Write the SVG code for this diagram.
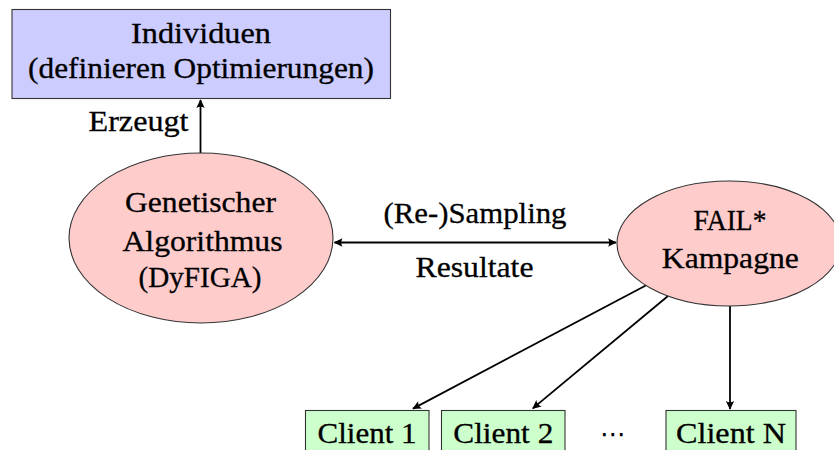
<svg xmlns="http://www.w3.org/2000/svg" width="834" height="450" viewBox="0 0 834 450">
  <style>
    text { font-family: "Liberation Serif", "Times New Roman", serif; font-size: 30px; fill: #000; stroke: #000; stroke-width: 0.3; text-anchor: middle; }
    .box { stroke: #333; stroke-width: 1.1; }
    .ind { fill: #ccccff; }
    .proc { fill: #ffcccc; }
    .client { fill: #ccffcc; }
    .edge { fill: none; stroke: #000; stroke-width: 1.8; }
  </style>
  <defs>
    <marker id="arrow" viewBox="-9 -5 10 10" refX="0" refY="0" markerWidth="10" markerHeight="10" markerUnits="userSpaceOnUse" orient="auto-start-reverse">
      <path d="M0.8,0 L-8,-4.2 Q-5.5,0 -8,4.2 Z" fill="#000"/>
    </marker>
  </defs>

  <!-- connectors -->
  <g id="connectors">
    <line class="edge" x1="200.5" y1="153" x2="200.5" y2="100" marker-end="url(#arrow)"/>
    <text x="188.5" y="131" style="text-anchor:end" textLength="100" lengthAdjust="spacingAndGlyphs">Erzeugt</text>

    <line class="edge" x1="334.5" y1="242.5" x2="616" y2="242.5" marker-start="url(#arrow)" marker-end="url(#arrow)"/>
    <text x="475" y="222.5" textLength="183" lengthAdjust="spacingAndGlyphs">(Re-)Sampling</text>
    <text x="474.5" y="276.5" textLength="118" lengthAdjust="spacingAndGlyphs">Resultate</text>

    <line class="edge" x1="646.7" y1="285" x2="413" y2="408.6" marker-end="url(#arrow)"/>
    <line class="edge" x1="668" y1="296" x2="532.8" y2="408.4" marker-end="url(#arrow)"/>
    <line class="edge" x1="730" y1="306" x2="730" y2="409" marker-end="url(#arrow)"/>
  </g>

  <!-- population of individuals -->
  <g id="individuen">
    <rect class="box ind" x="12" y="9.5" width="378.5" height="89"/>
    <text x="201" y="42.5" textLength="140" lengthAdjust="spacingAndGlyphs">Individuen</text>
    <text x="201" y="78" textLength="346" lengthAdjust="spacingAndGlyphs">(definieren Optimierungen)</text>
  </g>

  <!-- genetic algorithm -->
  <g id="dyfiga">
    <ellipse class="box proc" cx="201" cy="238" rx="132" ry="85"/>
    <text x="200.5" y="211.5" textLength="151" lengthAdjust="spacingAndGlyphs">Genetischer</text>
    <text x="202.5" y="250.5" textLength="160" lengthAdjust="spacingAndGlyphs">Algorithmus</text>
    <text x="200" y="287" textLength="123" lengthAdjust="spacingAndGlyphs">(DyFIGA)</text>
  </g>

  <!-- FAIL* campaign -->
  <g id="fail-kampagne">
    <ellipse class="box proc" cx="729" cy="243.5" rx="112" ry="62.5"/>
    <text x="730" y="230" textLength="73" lengthAdjust="spacingAndGlyphs">FAIL*</text>
    <text x="730.3" y="268.3" textLength="137" lengthAdjust="spacingAndGlyphs">Kampagne</text>
  </g>

  <!-- clients -->
  <g id="client-1">
    <rect class="box client" x="305.5" y="410.5" width="123.5" height="50"/>
    <text x="367" y="443" textLength="99" lengthAdjust="spacingAndGlyphs">Client 1</text>
  </g>
  <g id="client-2">
    <rect class="box client" x="441.5" y="410.5" width="123.5" height="50"/>
    <text x="503.3" y="443" textLength="100" lengthAdjust="spacingAndGlyphs">Client 2</text>
  </g>
  <g id="client-dots">
    <text x="613" y="443" style="font-family:'DejaVu Sans',sans-serif;font-size:26px;stroke:none">⋯</text>
  </g>
  <g id="client-n">
    <rect class="box client" x="666" y="410.5" width="130" height="50"/>
    <text x="731" y="443" textLength="110" lengthAdjust="spacingAndGlyphs">Client N</text>
  </g>
</svg>
